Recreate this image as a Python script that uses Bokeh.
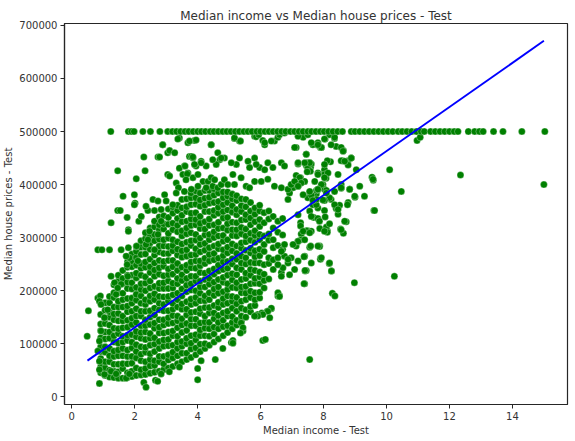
from bokeh.plotting import figure
from bokeh.models import Range1d, FixedTicker, BasicTickFormatter
from bokeh.embed import file_html
from bokeh.resources import INLINE

# ---------------- data (income in units of 10k$, price in k$) ----------------
# dense core, read column by column
core_x = [0.92, 1.06, 1.2, 1.34, 1.48, 1.62, 1.77, 1.91, 2.05, 2.2, 2.34, 2.49, 2.63,
          2.78, 2.92, 3.07, 3.21, 3.36, 3.5, 3.65, 3.79, 3.94, 4.08, 4.23, 4.37, 4.52,
          4.66, 4.81, 4.95, 5.1, 5.24, 5.39, 5.53, 5.68, 5.82, 5.97, 6.11, 6.26, 6.4,
          6.55, 6.7]
core_y = [
    [45, 56, 72, 85, 94, 111, 125, 137, 155],
    [40, 54, 66, 84, 94, 109, 122, 138, 149, 163, 177],
    [37, 50, 66, 77, 91, 110, 122, 135, 150, 160, 177, 189],
    [36, 48, 61, 76, 86, 103, 115, 129, 145, 156, 169, 187, 196, 211],
    [35, 47, 61, 77, 88, 101, 119, 128, 143, 157, 169, 180, 196, 209, 218, 229],
    [35, 53, 62, 77, 91, 103, 114, 130, 143, 152, 169, 183, 195, 213, 223, 238],
    [36, 45, 62, 76, 88, 106, 116, 131, 144, 160, 171, 185, 204, 216, 229, 244, 254],
    [38, 48, 63, 76, 92, 103, 117, 136, 148, 161, 176, 186, 203, 215, 229, 245, 256, 269],
    [40, 54, 73, 85, 98, 113, 123, 140, 152, 166, 182, 193, 206, 224, 233, 248, 262, 274, 283],
    [41, 51, 68, 80, 94, 110, 121, 134, 152, 161, 176, 190, 202, 213, 229, 242, 251, 268, 282, 294],
    [42, 53, 66, 84, 93, 108, 122, 134, 145, 161, 174, 183, 200, 214, 226, 244, 254, 269, 282, 298, 309],
    [44, 58, 70, 81, 97, 110, 119, 136, 150, 162, 180, 190, 205, 218, 234, 245, 259, 278, 290, 303, 318],
    [46, 59, 68, 85, 99, 111, 129, 139, 154, 167, 183, 194, 208, 227, 239, 252, 267, 277, 294, 306, 320, 331],
    [48, 66, 76, 91, 104, 120, 131, 145, 164, 176, 189, 204, 214, 231, 243, 257, 273, 284, 297, 315, 324, 339],
    [51, 62, 76, 95, 107, 120, 135, 145, 162, 174, 188, 204, 215, 228, 246, 255, 270, 284, 296, 316, 326, 341],
    [54, 69, 79, 96, 108, 122, 138, 149, 162, 180, 189, 204, 218, 230, 241, 257, 270, 283, 299, 308, 325, 338, 354],
    [57, 73, 84, 97, 115, 124, 139, 153, 165, 176, 192, 205, 214, 231, 245, 257, 275, 285, 296, 315, 327, 346, 358],
    [62, 77, 91, 103, 114, 130, 143, 152, 169, 183, 195, 213, 223, 238, 251, 267, 278, 292, 311, 323, 336, 351, 361],
    [66, 82, 95, 104, 121, 135, 147, 165, 175, 190, 203, 219, 230, 244, 263, 275, 288, 303, 313, 330, 342, 356, 372],
    [70, 82, 100, 110, 125, 138, 154, 165, 179, 198, 210, 223, 238, 248, 265, 277, 291, 307, 318, 331, 349, 358, 373],
    [74, 90, 101, 115, 134, 146, 159, 174, 184, 201, 213, 227, 243, 254, 267, 285, 294, 309, 323, 335, 346, 362, 375, 384],
    [79, 92, 107, 117, 134, 146, 160, 176, 187, 200, 218, 227, 242, 256, 268, 279, 295, 306, 324, 334, 347, 363, 375, 388],
    [85, 99, 115, 126, 139, 157, 166, 181, 195, 207, 218, 234, 247, 256, 273, 287, 299, 317, 327, 340, 359, 371, 384],
    [91, 100, 115, 129, 141, 152, 168, 181, 190, 207, 221, 233, 251, 261, 276, 289, 305, 316, 330, 349, 361, 374, 389],
    [97, 114, 128, 140, 158, 168, 183, 196, 212, 223, 237, 256, 268, 281, 296, 306, 323, 335, 349, 365, 376, 389],
    [103, 118, 131, 147, 158, 172, 191, 203, 216, 231, 241, 258, 270, 284, 300, 311, 324, 342, 351, 366, 380, 392],
    [109, 128, 140, 153, 168, 178, 195, 207, 221, 237, 248, 261, 279, 288, 303, 317, 329, 346, 357, 368, 384],
    [115, 132, 144, 158, 174, 185, 198, 216, 225, 240, 254, 266, 277, 293, 304, 318, 337, 349, 362, 375, 386],
    [121, 134, 152, 161, 176, 190, 202, 213, 229, 242, 255, 271, 282, 296, 314, 326, 338, 352, 366, 378, 386],
    [128, 140, 151, 167, 180, 189, 206, 220, 232, 250, 260, 275, 288, 304, 315, 329, 348, 360, 373, 382],
    [135, 144, 161, 175, 187, 205, 215, 230, 243, 259, 270, 284, 303, 315, 328, 343, 353, 370, 379],
    [142, 152, 167, 180, 196, 207, 221, 240, 252, 265, 280, 290, 307, 319, 333, 349, 360, 373],
    [150, 164, 183, 195, 208, 223, 233, 250, 262, 276, 292, 303, 316, 334, 343, 358, 372],
    [160, 170, 187, 199, 213, 229, 240, 253, 271, 280, 295, 308, 324, 337, 350, 366],
    [172, 183, 196, 214, 223, 238, 252, 264, 275, 291, 304, 313, 330, 344, 356],
    [186, 197, 213, 226, 235, 252, 266, 278, 296, 306, 321, 334, 350, 361],
    [205, 219, 231, 249, 274, 287, 303, 328, 347],
    [222, 251, 262, 295, 307, 335, 350],
    [240, 258, 281, 296, 318, 340],
    [262, 285, 310, 331],
    [278, 305, 336],
]

# capped values at 500k
cap_x = [1.24, 1.8, 1.9, 1.98, 2.26, 2.5, 2.8, 3.05, 3.2, 3.33, 3.46, 3.6, 3.72, 3.86,
         4.0, 4.12, 4.25, 4.4, 4.52, 4.66, 4.8, 4.93, 5.06, 5.2, 5.33, 5.47, 5.6, 5.73,
         5.88, 6.0, 6.14, 6.27, 6.4, 6.54, 6.67, 6.8, 6.95, 7.08, 7.22, 7.35, 7.5, 7.62,
         7.76, 7.9, 8.02, 8.16, 8.3, 8.45, 8.6, 8.88, 9.0, 9.15, 9.3, 9.45, 9.6, 9.75,
         9.9, 10.05, 10.2, 10.37, 10.5, 10.65, 10.8, 10.95, 11.1, 11.2, 11.4, 11.55,
         11.7, 11.85, 12.0, 12.15, 12.27, 12.6, 12.8, 12.95, 13.07, 13.4, 13.7, 14.3, 15.03]
cap_y = [500] * len(cap_x)

# scattered points outside the core
outer_x = [
    0.49, 0.53, 0.88, 0.83, 0.91, 0.88, 0.93, 1.25, 1.36, 1.41, 1.57, 1.78, 1.83, 2.1, 1.46,
    1.14, 1.04, 0.93, 0.88, 0.83, 0.88, 0.88, 1.04, 1.25, 1.41, 1.73, 1.83, 2.29, 2.36, 2.66,
    2.73, 2.84, 3.1, 3.42, 4.0, 4.0, 4.11, 4.56, 4.8, 5.07, 5.44, 5.81, 5.91, 6.04, 6.21,
    6.34, 6.55, 6.6, 6.66, 6.92, 7.19, 7.4, 7.42, 6.07, 6.15, 6.76,
    7.13, 7.66, 7.82, 7.93, 7.45, 7.19, 7.5, 7.59, 7.5, 7.82, 8.03, 7.13, 7.27, 7.38, 7.8,
    7.9, 7.03, 7.19, 6.92, 6.87, 7.5, 7.66, 7.82, 7.56, 7.69, 7.82, 7.27, 7.5, 7.29, 7.88,
    8.12, 7.56, 7.88, 7.13, 7.4, 7.9, 7.45, 6.97, 6.87, 6.71, 6.66, 6.55, 6.6, 6.34, 6.23,
    6.07, 5.91, 5.81, 6.29, 7.56, 5.38, 5.44, 5.36, 5.12, 5.12,
    12.35, 15.0, 10.1, 10.47, 9.6, 10.25, 8.98, 9.54, 9.58, 10.97, 11.07, 9.0, 8.72, 9.04,
    8.63, 8.54, 8.25, 8.18, 8.28, 8.36, 7.38, 8.88, 8.78, 8.78, 8.6, 8.63, 8.4, 8.35, 8.05,
    7.9, 7.82, 7.67, 8.46, 8.22, 8.12, 8.03, 8.03, 8.08, 7.98, 8.03, 8.09, 8.56, 8.83, 8.56,
    8.24, 8.19, 8.03, 7.98, 8.78, 8.76, 8.4, 8.51, 8.46, 8.03, 8.05, 8.09, 8.19, 8.12, 7.77,
    7.77, 7.77, 7.82, 7.87, 7.9, 7.38, 7.41, 7.45, 7.48, 7.56, 7.61, 7.5, 7.58, 7.48, 7.4,
    7.24, 7.29, 7.56, 7.61, 7.77, 7.66, 7.61, 7.45, 7.27, 7.59, 7.29, 7.19,
    5.17, 5.33, 5.81, 6.07, 6.13, 6.44, 6.55, 7.08, 7.35, 7.45, 7.56, 7.66, 7.82, 7.93, 8.19,
    8.35, 8.56, 8.62, 8.88, 8.56, 8.03, 8.14, 7.4, 7.82, 7.72, 7.93, 8.03, 7.19, 6.66, 6.76,
    6.23, 6.39, 5.97, 6.13, 5.81, 5.86, 5.6, 5.65, 5.33, 5.23, 5.07, 5.12, 4.85, 4.7, 4.59,
    4.48, 4.27, 4.11, 3.95, 3.85, 3.74, 3.58, 3.69, 3.42, 3.53, 3.85, 4.01, 4.17, 4.33, 4.43,
    4.48, 4.64, 4.75, 4.85, 4.96, 5.17, 5.38, 5.54, 5.65, 5.81, 6.02, 6.23, 6.44, 6.66, 6.87,
    6.97, 7.08, 7.19, 7.35, 7.56, 7.82, 8.09, 8.35, 8.56, 8.83, 8.99, 8.67, 9.15, 9.57, 9.3,
    9.62, 8.35, 8.46, 8.67, 8.56, 7.87, 8.03, 7.61, 7.19, 7.35, 7.56, 7.82, 7.61, 7.19, 7.4,
    6.87, 7.03, 7.08, 6.55, 6.76, 6.66, 8.19, 8.25, 7.93,
    1.46, 2.05, 2.33, 2.29, 2.74, 2.79, 2.89, 3.05, 3.11, 3.27, 3.42, 3.69, 3.9, 3.8, 3.85,
    4.11, 4.43, 4.64, 4.75, 3.05, 3.11, 3.6, 3.9, 3.67, 3.32, 3.39, 3.58, 3.8, 4.01, 4.27,
    4.54, 3.63, 1.63, 1.99, 2.01, 1.99, 1.46, 1.54, 1.76, 2.13, 1.25, 1.8, 1.8, 2.21, 2.42,
    2.36, 2.58, 2.74, 2.63, 2.84, 2.95, 3.0, 3.32, 3.21, 0.83, 0.96, 1.2, 1.57, 1.8, 2.06,
    1.73, 1.76, 2.36, 2.42, 2.47, 2.74, 2.63, 2.84,
    2.89, 3.37, 3.74, 3.95, 4.43, 5.17, 5.36, 5.86, 5.94, 6.13, 6.34, 6.6, 6.76, 7.19, 7.5,
    7.61, 7.82, 8.03, 8.24,
]
outer_y = [
    114, 162, 25, 186, 190, 180, 174, 227, 215, 193, 212, 227, 262, 256, 205,
    164, 149, 124, 105, 86, 67, 51, 42, 48, 43, 35, 43, 27, 18, 31,
    29, 43, 47, 56, 53, 32, 68, 70, 91, 102, 124, 152, 155, 158, 161,
    166, 190, 191, 234, 230, 256, 213, 237, 106, 108, 265,
    470, 476, 474, 470, 457, 439, 438, 433, 430, 422, 422, 417, 413, 406, 389,
    394, 394, 397, 384, 372, 375, 362, 356, 350, 338, 336, 328, 313, 307, 317,
    313, 282, 284, 284, 265, 261, 238, 262, 252, 243, 227, 196, 189, 167, 161,
    155, 152, 152, 149, 70, 139, 130, 120, 106, 101,
    418, 400, 428, 387, 351, 227, 215, 414, 408, 483, 489, 376, 330, 428,
    308, 316, 237, 251, 195, 190, 213, 450, 445, 437, 445, 464, 472, 487, 486,
    470, 477, 476, 419, 443, 445, 428, 419, 412, 400, 391, 389, 393, 391, 400,
    372, 375, 370, 371, 366, 362, 355, 361, 344, 351, 339, 320, 326, 310, 362,
    382, 389, 391, 283, 259, 264, 238, 436, 441, 441, 439, 432, 425, 424, 406,
    413, 403, 386, 380, 372, 370, 312, 313, 322, 284, 296, 293,
    487, 482, 491, 483, 475, 482, 489, 470, 489, 457, 441, 475, 479, 470, 494,
    489, 470, 463, 450, 445, 438, 422, 441, 419, 406, 400, 413, 441, 441, 435,
    441, 432, 432, 428, 450, 438, 444, 432, 450, 438, 441, 419, 450, 447, 438,
    447, 435, 444, 435, 450, 453, 435, 422, 431, 419, 413, 419, 406, 406, 413,
    397, 394, 400, 409, 400, 400, 413, 397, 394, 406, 406, 410, 397, 394, 391,
    400, 406, 397, 381, 387, 391, 384, 387, 394, 391, 378, 444, 397, 410, 378,
    351, 362, 353, 331, 315, 331, 312, 340, 343, 312, 309, 284, 252, 293, 296,
    259, 287, 240, 249, 287, 274, 252, 237, 262,
    426, 411, 426, 452, 452, 452, 475, 460, 464, 460, 488, 479, 483, 453, 452,
    441, 475, 460, 450, 419, 416, 435, 438, 420, 403, 394, 387, 391, 397, 394,
    409, 409, 378, 381, 365, 362, 351, 351, 338, 331, 328, 315, 312, 340, 351,
    359, 372, 369, 351, 353, 381, 369, 384, 362, 277, 277, 277, 277, 281, 284,
    265, 249, 287, 296, 312, 306, 277, 331,
    475, 486, 482, 484, 475, 488, 482, 490, 494, 479, 482, 494, 497, 491, 494,
    479, 475, 486, 475,
]

# fitted regression line end points
line_x = [0.5, 15.0]
line_y = [68, 671]

# ---------------- assemble ----------------
pts_x, pts_y = [], []
for cx, col in zip(core_x, core_y):
    for yv in col:
        pts_x.append(cx)
        pts_y.append(yv * 1000)
for xv, yv in zip(outer_x, outer_y):
    pts_x.append(xv)
    pts_y.append(yv * 1000)
for xv, yv in zip(cap_x, cap_y):
    pts_x.append(xv)
    pts_y.append(yv * 1000 + 1)

FONT = "DejaVu Sans"
TXT = "#333333"

p = figure(frame_width=503, frame_height=381,
           x_range=Range1d(-0.23, 15.75), y_range=Range1d(-14700, 703700),
           output_backend="svg", toolbar_location=None,
           title="Median income vs Median house prices - Test",
           min_border_left=59, min_border_right=2, min_border_top=23, min_border_bottom=26)

p.title.align = "center"
p.title.text_font = FONT
p.title.text_font_size = "12px"
p.title.text_font_style = "normal"
p.title.text_color = TXT
p.title.standoff = 2
p.title.offset = 0

p.xgrid.grid_line_color = None
p.ygrid.grid_line_color = None
p.outline_line_color = "#262626"
p.outline_line_width = 1.2
p.background_fill_color = "white"
p.border_fill_color = "white"

p.xaxis.ticker = FixedTicker(ticks=[0, 2, 4, 6, 8, 10, 12, 14])
p.yaxis.ticker = FixedTicker(ticks=[0, 100000, 200000, 300000, 400000, 500000, 600000, 700000])
p.yaxis.formatter = BasicTickFormatter(use_scientific=False)
p.xaxis.axis_label = "Median income - Test"
p.yaxis.axis_label = "Median house prices - Test"
for ax in (p.xaxis, p.yaxis):
    ax.axis_line_color = "#262626"
    ax.axis_line_width = 1.2
    ax.major_tick_line_color = "#262626"
    ax.major_tick_in = 0
    ax.major_tick_out = 4
    ax.minor_tick_line_color = None
    ax.major_label_text_font = FONT
    ax.major_label_text_font_size = "10px"
    ax.major_label_text_color = TXT
    ax.major_label_standoff = 3
    ax.axis_label_text_font = FONT
    ax.axis_label_text_font_size = "10px"
    ax.axis_label_text_font_style = "normal"
    ax.axis_label_text_color = TXT
    ax.axis_label_standoff = 2

p.scatter(pts_x, pts_y, size=7, fill_color="#008000", line_color="white",
          line_width=0.6, line_alpha=0.5)
p.line(line_x, [v * 1000 for v in line_y], line_color="blue", line_width=1.9)

open("out.html", "w").write(file_html(p, INLINE))
